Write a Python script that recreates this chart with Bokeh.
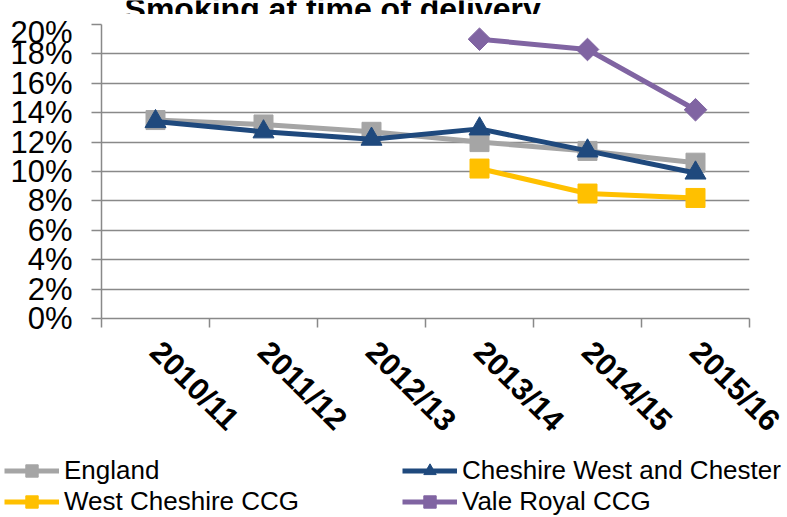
import math
from bokeh.plotting import figure
from bokeh.layouts import column
from bokeh.models import Range1d, FixedTicker, Legend, LegendItem, Label, PrintfTickFormatter
from bokeh.embed import file_html
from bokeh.resources import INLINE

nan = float("nan")

# ---- data ----
categories = ["2010/11", "2011/12", "2012/13", "2013/14", "2014/15", "2015/16"]
england = [13.5, 13.2, 12.7, 12.0, 11.4, 10.6]
cheshire_west = [13.4, 12.7, 12.2, 12.9, 11.4, 9.9]
west_cheshire_ccg = [nan, nan, nan, 10.2, 8.5, 8.2]
vale_royal_ccg = [nan, nan, nan, 19.0, 18.3, 14.2]
y_ticks = [0, 2, 4, 6, 8, 10, 12, 14, 16, 18, 20]
title_text = "Smoking at time of delivery"

x = list(range(len(categories)))
boundaries = [i - 0.5 for i in range(len(categories) + 1)]

FONT = "Liberation Sans"
GRID = "#898989"
W = 787
H_TITLE = 14
H_TOP = 441
H_LEG = 62


def bare(fig):
    fig.outline_line_color = None
    fig.border_fill_color = "white"
    fig.background_fill_color = "white"
    fig.frame_align = False


# ---- title strip (top of the title is cut off, as in the reference) ----
t = figure(width=W, height=H_TITLE,
           x_range=Range1d(-0.5, len(categories) - 0.5), y_range=Range1d(0, H_TITLE),
           output_backend="svg", toolbar_location=None,
           x_axis_location=None, y_axis_location=None,
           min_border_left=101, min_border_right=38,
           min_border_top=0, min_border_bottom=0)
bare(t)
t.grid.visible = False
t.add_layout(Label(x=1.64, y=H_TITLE - 8, text=title_text, text_font=FONT,
                   text_font_size="32px", text_font_style="bold",
                   text_align="center", text_baseline="alphabetic",
                   text_color="black"))

# ---- main chart ----
p = figure(width=W, height=H_TOP,
           x_range=t.x_range,
           y_range=Range1d(y_ticks[0], y_ticks[-1]),
           output_backend="svg", toolbar_location=None,
           min_border_left=101, min_border_right=38,
           min_border_top=24 - H_TITLE, min_border_bottom=H_TITLE + H_TOP - 318)
bare(p)

# y axis
p.yaxis.ticker = FixedTicker(ticks=y_ticks)
p.yaxis.formatter = PrintfTickFormatter(format="%d%%")
p.yaxis.major_label_text_font = FONT
p.yaxis.major_label_text_font_size = "31px"
p.yaxis.major_label_text_color = "black"
p.yaxis.major_label_standoff = 19
p.yaxis.axis_line_color = GRID
p.yaxis.axis_line_width = 1.5
p.yaxis.major_tick_line_color = GRID
p.yaxis.major_tick_line_width = 1.5
p.yaxis.major_tick_out = 10
p.yaxis.major_tick_in = 0
p.yaxis.minor_tick_line_color = None

# x axis
p.xaxis.ticker = FixedTicker(ticks=x, minor_ticks=boundaries)
p.xaxis.major_label_overrides = {i: c for i, c in zip(x, categories)}
p.xaxis.major_label_orientation = -math.pi / 4
p.xaxis.major_label_text_font = FONT
p.xaxis.major_label_text_font_size = "31px"
p.xaxis.major_label_text_font_style = "bold"
p.xaxis.major_label_text_color = "black"
p.xaxis.major_label_standoff = 19
p.xaxis.major_tick_line_color = None
p.xaxis.major_tick_out = 9
p.xaxis.major_tick_in = 0
p.xaxis.minor_tick_line_color = GRID
p.xaxis.minor_tick_line_width = 1.5
p.xaxis.minor_tick_out = 9
p.xaxis.minor_tick_in = 0
p.xaxis.axis_line_color = GRID
p.xaxis.axis_line_width = 1.5

p.xgrid.visible = False
p.ygrid.ticker = FixedTicker(ticks=y_ticks)
p.ygrid.grid_line_color = GRID
p.ygrid.grid_line_width = 1.5

series = [
    ("England", england, "#A5A5A5", "square", 19, 0.0),
    ("Cheshire West and Chester", cheshire_west, "#1F497D", "triangle", 21, 0.0),
    ("West Cheshire CCG", west_cheshire_ccg, "#FFC000", "square", 19, 0.0),
    ("Vale Royal CCG", vale_royal_ccg, "#8064A2", "square", 16, math.pi / 4),
]

for name, vals, col, mk, sz, ang in series:
    p.line(x, vals, line_color=col, line_width=5)
    p.scatter(x, vals, marker=mk, size=sz, angle=ang, fill_color=col, line_color=col)

# ---- legend strip (same series, own renderers kept outside its visible range) ----
q = figure(width=W, height=H_LEG,
           x_range=Range1d(-0.5, len(categories) - 0.5),
           y_range=Range1d(-200, -100),
           output_backend="svg", toolbar_location=None,
           x_axis_location=None, y_axis_location=None,
           min_border_left=0, min_border_right=0,
           min_border_top=0, min_border_bottom=0)
bare(q)
q.grid.visible = False

items = []
for name, vals, col, mk, sz, ang in series:
    l = q.line(x, vals, line_color=col, line_width=5)
    s = q.scatter(x, vals, marker=mk, size=sz, angle=ang, fill_color=col, line_color=col)
    items.append(LegendItem(label=name, renderers=[l, s]))

legend = Legend(items=items, orientation="horizontal", ncols=2,
                location=(4, 0),
                glyph_width=55, glyph_height=31, label_height=31,
                label_width=338, label_standoff=5, spacing=0,
                padding=0, margin=0,
                border_line_color=None, background_fill_alpha=0,
                label_text_font=FONT, label_text_font_size="26px",
                label_text_color="black")
q.add_layout(legend)

layout = column(t, p, q, spacing=0)
open("out.html", "w").write(file_html(layout, INLINE))
